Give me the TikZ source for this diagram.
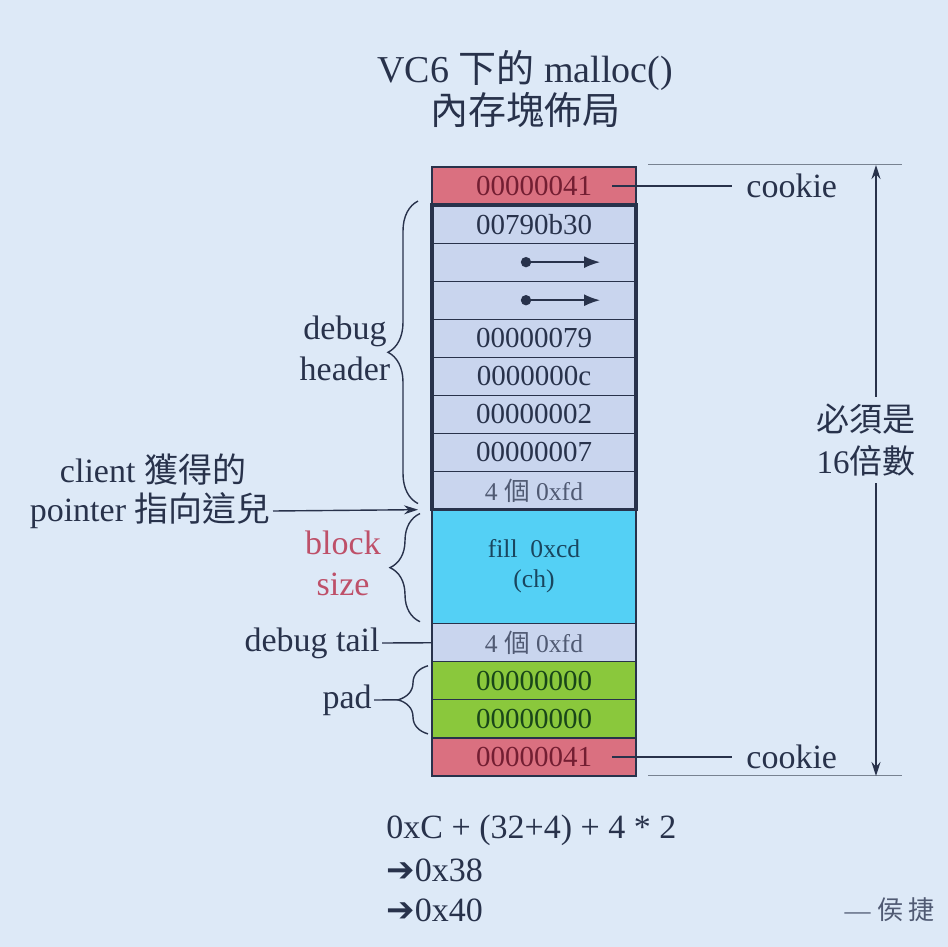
\documentclass[tikz,border=0pt]{standalone}
\usepackage{fontspec}
\setmainfont{Liberation Serif}
\newfontfamily\cjk{Noto Sans CJK TC}
\newfontfamily\arrowfont{DejaVu Sans}
\usetikzlibrary{positioning,arrows.meta,decorations.pathreplacing,calc}
\definecolor{slidebg}{RGB}{221,233,247}
\definecolor{cookiered}{RGB}{218,112,128}
\definecolor{cookietext}{RGB}{115,30,50}
\definecolor{headerblue}{RGB}{201,213,238}
\definecolor{blockcyan}{RGB}{84,208,245}
\definecolor{blocktext}{RGB}{25,70,95}
\definecolor{padgreen}{RGB}{138,200,60}
\definecolor{padtext}{RGB}{25,70,25}
\definecolor{inkblue}{RGB}{40,50,75}
\definecolor{fdgray}{RGB}{80,90,115}
\definecolor{sizepink}{RGB}{190,80,105}
\definecolor{dimgray}{RGB}{120,130,145}
\newcommand{\zh}[1]{{\cjk #1}}

\begin{document}
\begin{tikzpicture}[x=0.5pt, y=-0.5pt,
    cell/.style={draw=inkblue, line width=0.6pt, minimum width=102pt, minimum height=19.03pt, inner sep=0pt, outer sep=0pt, font=\fontsize{14.5}{16}\selectfont, text=inkblue},
    smallcell/.style={cell, font=\fontsize{12.8}{14}\selectfont, text=fdgray},
    label/.style={font=\fontsize{17}{20.5}\selectfont, text=inkblue, inner sep=1pt},
    curly/.style={decorate, decoration={brace, amplitude=15pt}, line width=0.7pt, draw=inkblue},
    ptr/.style={-{Stealth[length=7pt,width=4.5pt]}, line width=0.7pt, draw=inkblue},
    link/.style={-{Latex[length=8pt,width=6pt]}, line width=0.8pt, draw=inkblue}
]
\fill[slidebg] (0,0) rectangle (948,947);
\useasboundingbox (0,0) rectangle (948,947);

% TITLE
\node[font=\fontsize{19}{21}\selectfont, text=inkblue, align=center] (title) at (525,89) {VC6 \zh{下的} malloc()\\\zh{內存塊佈局}};

% MEMORY BLOCK
\node[cell, fill=cookiered, text=cookietext, anchor=north west] (ck1) at (432,167) {00000041};
\node[cell, fill=headerblue, below=0pt of ck1] (h1) {00790b30};
\node[cell, fill=headerblue, below=0pt of h1] (h2) {};
\node[cell, fill=headerblue, below=0pt of h2] (h3) {};
\node[cell, fill=headerblue, below=0pt of h3] (h4) {00000079};
\node[cell, fill=headerblue, below=0pt of h4] (h5) {0000000c};
\node[cell, fill=headerblue, below=0pt of h5] (h6) {00000002};
\node[cell, fill=headerblue, below=0pt of h6] (h7) {00000007};
\node[smallcell, fill=headerblue, below=0pt of h7] (h8) {4 \zh{個} 0xfd};
\node[cell, fill=blockcyan, minimum height=57.09pt, align=center, font=\fontsize{12.8}{15}\selectfont, text=blocktext, below=0pt of h8] (blk) {fill\ \ 0xcd\\(ch)};
\node[smallcell, fill=headerblue, below=0pt of blk] (tail) {4 \zh{個} 0xfd};
\node[cell, fill=padgreen, text=padtext, below=0pt of tail] (pad1) {00000000};
\node[cell, fill=padgreen, text=padtext, below=0pt of pad1] (pad2) {00000000};
\node[cell, fill=cookiered, text=cookietext, below=0pt of pad2] (ck2) {00000041};

% debug header outline
\draw[inkblue, line width=1.6pt] (h1.north west) rectangle (h8.south east);

% pointers inside the header
\fill[inkblue] ([xshift=-4pt]h2.center) circle[radius=2.6pt];
\draw[link] ([xshift=-4pt]h2.center) -- ([xshift=33pt]h2.center);
\fill[inkblue] ([xshift=-4pt]h3.center) circle[radius=2.6pt];
\draw[link] ([xshift=-4pt]h3.center) -- ([xshift=33pt]h3.center);

% COOKIES
\node[label, right=54pt of ck1] (cookie1) {cookie};
\node[label, right=54pt of ck2] (cookie2) {cookie};
\draw[inkblue, line width=0.7pt] ([xshift=39pt]ck1.center) -- ([xshift=-6pt]cookie1.west);
\draw[inkblue, line width=0.7pt] ([xshift=39pt]ck2.center) -- ([xshift=-6pt]cookie2.west);

% SIZE MUST BE A MULTIPLE OF 16
\draw[dimgray, line width=0.5pt] ([xshift=6pt,yshift=1pt]ck1.north east) -- ++(254,0);
\draw[dimgray, line width=0.5pt] ([xshift=6pt]ck2.south east) -- ++(254,0);
\coordinate (dimtop) at (876,165);
\coordinate (dimbot) at (876,776);
\node[font=\fontsize{16.5}{21}\selectfont, text=inkblue, align=center] (mult) at (866,440) {\zh{必須是}\\16\zh{倍數}};
\draw[ptr] (dimtop |- mult.north) -- (dimtop);
\draw[ptr] (dimtop |- mult.south) -- (dimbot);

% LEFT LABELS
\node[label, align=center] (dbghdr) at (345,348) {debug\\header};
\draw[curly] ([xshift=-7pt,yshift=3pt]h8.south west) -- ([xshift=-7pt,yshift=2pt]h1.north west);

\node[label] (client1) at (153,470) {client \zh{獲得的}};
\node[label, anchor=east] (client2) at (273,511) {pointer \zh{指向這兒}};
\draw[ptr, shorten >=7pt] (client2.east) -- (h8.south west);

\node[label, text=sizepink, align=center] (blksize) at (343,563) {block\\size};
\draw[curly] ([xshift=-6pt,yshift=1pt]blk.south west) -- ([xshift=-6pt,yshift=-2pt]blk.north west);

\node[label, anchor=east] (dbgtail) at (382,643) {debug tail};
\draw[inkblue, line width=0.7pt] (dbgtail.east) -- (tail.west);

\node[label, anchor=east] (padlbl) at (374,700) {pad};
\draw[curly] ([xshift=-2pt,yshift=2pt]pad2.south west) -- ([xshift=-2pt,yshift=-2pt]pad1.north west);
\coordinate (padtip) at ([xshift=-17pt]pad1.south west);
\draw[inkblue, line width=0.7pt] (padlbl.east) -- (padtip);

% CALCULATION
\node[label, anchor=west] (calc1) at (384,830) {0xC + (32+4) + 4 * 2};
\node[label, anchor=west] (calc2) at (384,870) {{\arrowfont\bfseries ➔}0x38};
\node[label, anchor=west] (calc3) at (384,910) {{\arrowfont\bfseries ➔}0x40};

\node[font=\fontsize{13}{15}\selectfont, text=fdgray, anchor=east] (author) at (942,910) {— \zh{侯 捷}};

\end{tikzpicture}
\end{document}
